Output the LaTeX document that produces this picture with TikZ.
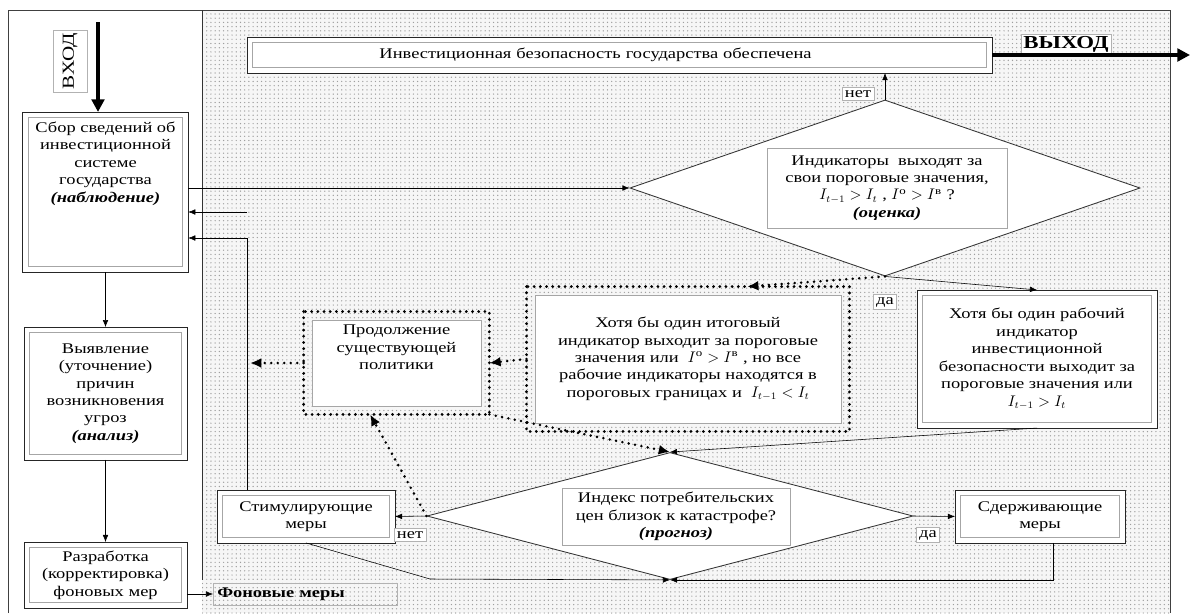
\documentclass[tikz,border=0pt]{standalone}
\usepackage{amsmath}
\usepackage{fontspec}
\setmainfont{Liberation Serif}[FakeStretch=1.25]
\usetikzlibrary{positioning, arrows.meta, shapes.geometric, patterns, calc}
\pgfdeclarelayer{fond}
\pgfdeclarelayer{cadres}
\pgfsetlayers{fond,cadres,main}

\tikzset{
  txt/.style={font=\fontsize{10.5}{12.4}\selectfont},
  bloc/.style={txt, draw=gray!70, thin, fill=white, align=center, inner sep=1.5pt, outer sep=4pt},
  blocp/.style={bloc, outer sep=6pt},
  cadre/.style={draw=black!85, semithick, fill=white},
  cadrep/.style={draw=black, line width=2.2pt, dash pattern=on 0pt off 4.4pt, line cap=round},
  losange/.style={diamond, draw=black!80, semithick, fill=white, inner sep=0pt},
  etiq/.style={txt, draw=gray!60, fill=white, inner sep=2pt},
  pointille/.style={-{Latex[length=8pt,width=7pt]}, line width=2pt, dash pattern=on 0pt off 4.6pt, line cap=round},
}

\begin{document}
\begin{tikzpicture}[x=0.025cm, y=-0.025cm, >={Latex[length=5pt,width=4pt]}]
\useasboundingbox (0,0) rectangle (1197,613);

% Fond
\begin{pgfonlayer}{fond}
  \fill[gray!7] (202,10) rectangle (1170,613);
  \fill[pattern=dots, pattern color=gray!75] (202,10) rectangle (1170,613);
\end{pgfonlayer}
\draw[gray!50!black, semithick] (8,613) -- (8,10) -- (1170,10) -- (1170,613);
\draw[black!80] (202,10) -- (202,580);

% Colonne gauche
\node[etiq, rotate=90, font=\fontsize{12}{14}\selectfont, minimum width=1.55cm, minimum height=0.85cm, inner sep=1pt] (vhod) at (70,61) {ВХОД};
\coordinate (vin) at (98,22);
\node[bloc, minimum width=3.79cm, minimum height=3.72cm] (sbor) at (105.5,192)
  {\parbox[t][3.5cm][t]{3.75cm}{\centering Сбор сведений об\\ инвестиционной\\ системе\\ государства\\ \textbf{\textit{(наблюдение)}}}};
\node[bloc, minimum width=3.79cm, minimum height=3.04cm] (vyyav) at (105.5,393.5)
  {Выявление\\ (уточнение)\\ причин\\ возникновения\\ угроз\\ \textbf{\textit{(анализ)}}};
\node[bloc, minimum width=3.79cm, minimum height=1.37cm] (razr) at (105.5,575)
  {Разработка\\ (корректировка)\\ фоновых мер};
\node[etiq, fill=none, anchor=west, font=\fontsize{10.5}{12}\selectfont\bfseries, minimum width=4.6cm, minimum height=0.55cm, text width=4.4cm] (fon) at (213,594) {Фоновые меры};

% Sortie
\node[bloc, minimum width=18.34cm, minimum height=0.62cm, text width=18cm, align=left] (itog) at (619.5,55)
  {\hspace*{3cm}Инвестиционная безопасность государства обеспечена};
\node[etiq, font=\fontsize{13}{15}\selectfont\bfseries, inner sep=1.5pt] (vyhod) at (1066,44) {ВЫХОД};
\coordinate (vout) at (1190,61);

% Evaluation
\node[losange, minimum width=12.75cm, minimum height=4.4cm] (dm1) at (885,188) {};
\node[bloc, outer sep=0pt, minimum width=6cm, minimum height=2cm] (q1) at (887,188)
  {Индикаторы\ \ выходят за\\ свои пороговые значения,\\ $I_{t-1} > I_t$ , $I^{\text{о}} > I^{\text{в}}$ ?\\ \textbf{\textit{(оценка)}}};
\node[etiq] (net1) at (858,94) {нет};
\node[etiq] (da1) at (885,302) {да};

\node[bloc, minimum width=5.72cm, minimum height=3.17cm] (rab) at (1037,359)
  {Хотя бы один рабочий\\ индикатор\\ инвестиционной\\ безопасности выходит за\\ пороговые значения или\\ $I_{t-1} > I_t$};
\node[blocp, minimum width=7.65cm, minimum height=3.2cm] (sred) at (688,359)
  {Хотя бы один итоговый\\ индикатор выходит за пороговые\\ значения или\ \ $I^{\text{о}} > I^{\text{в}}$ , но все\\ рабочие индикаторы находятся в\\ пороговых границах и\ \ $I_{t-1} < I_t$};
\node[blocp, minimum width=4.22cm, minimum height=2.15cm] (prod) at (396.5,363)
  {\parbox[t][1.9cm][t]{3.9cm}{\centering Продолжение\\ существующей\\ политики}};

% Prevision
\node[losange, minimum width=12.15cm, minimum height=3.175cm] (dm2) at (670,516) {};
\node[bloc, outer sep=0pt, minimum width=5.7cm, minimum height=1.43cm] (q2) at (676,516.5)
  {Индекс потребительских\\ цен близок к катастрофе?\\ \textbf{\textit{(прогноз)}}};
\node[bloc, minimum width=4.17cm, minimum height=1.04cm] (stim) at (306,516.5) {Стимулирующие\\ меры};
\node[bloc, minimum width=3.97cm, minimum height=1.04cm] (sderzh) at (1040,516.5) {Сдерживающие\\ меры};
\node[etiq] (net2) at (410,535) {нет};
\node[etiq] (da2) at (928,535) {да};

% Cadres doubles
\begin{pgfonlayer}{cadres}
  \foreach \b in {sbor, vyyav, razr, itog, rab, stim, sderzh}
    \draw[cadre] (\b.north west) rectangle (\b.south east);
  \foreach \b in {prod, sred}
    \draw[cadrep] (\b.north west) rectangle (\b.south east);
\end{pgfonlayer}

% Liaisons
\draw[line width=3.5pt, -{Triangle[length=9pt,width=9pt]}] (vin) -- (vin |- sbor.north);
\draw[->] (sbor) -- (vyyav);
\draw[->] (vyyav) -- (razr);
\draw[->] (razr.east |- fon.west) -- (fon.west);
\draw[->] (sbor.east |- dm1.west) -- (dm1.west);
\coordinate (c1) at (247,212);
\draw[->] (c1) -- (c1 -| sbor.east);
\coordinate (c2) at (247,238);
\draw[->] (c2 |- stim.north) -- (c2) -- (c2 -| sbor.east);
\draw[->] (dm1.north) -- (dm1.north |- itog.south);
\draw[line width=3pt, -{Triangle[length=9pt,width=9pt]}] (itog.east) -- (itog.east -| vout);
\draw[->] (dm1.south) -- (rab.north);
\draw[pointille] (dm1.south) -- ([xshift=1.48cm]sred.north);
\draw[pointille] (sred.west) -- (prod.east);
\coordinate (c3) at (250,363);
\draw[pointille] (prod.west) -- (c3);
\draw[->] (rab.south) -- (dm2.north);
\draw[->] (dm2.west) -- (stim.east);
\draw[->] (dm2.east) -- (sderzh.west);
\coordinate (c4) at (430,579);
\draw[->] (stim.south) -- (c4) -- (dm2.south);
\draw[->] ([xshift=0.33cm]sderzh.south) |- (dm2.south);
\draw[pointille] (dm2.west) -- ([xshift=-0.66cm]prod.south);
\draw[pointille] (prod.south east) -- (dm2.north);

\end{tikzpicture}
\end{document}
